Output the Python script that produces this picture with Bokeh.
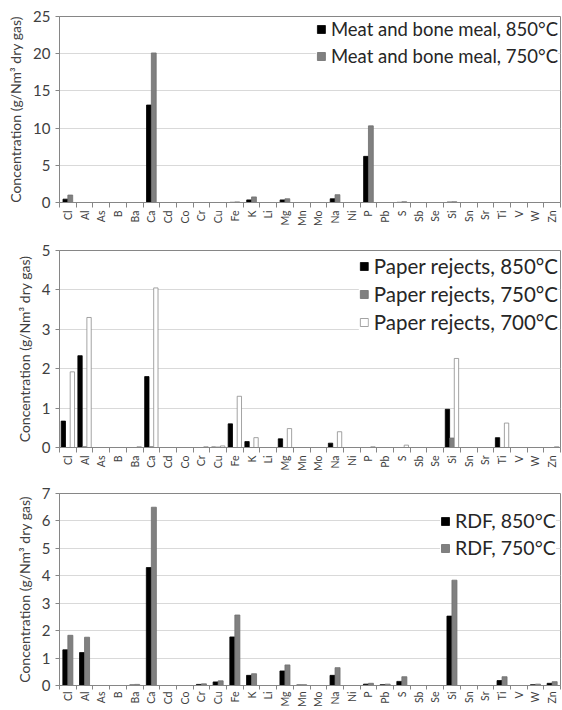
import math
from bokeh.plotting import figure
from bokeh.layouts import column
from bokeh.models import Range1d, FixedTicker, LinearAxis, ColumnDataSource
from bokeh.transform import dodge
from bokeh.embed import file_html
from bokeh.resources import INLINE

elements = ["Cl", "Al", "As", "B", "Ba", "Ca", "Cd", "Co", "Cr", "Cu", "Fe", "K", "Li", "Mg", "Mn",
            "Mo", "Na", "Ni", "P", "Pb", "S", "Sb", "Se", "Si", "Sn", "Sr", "Ti", "V", "W", "Zn"]

# Meat and bone meal
mbm_850 = [0.45, 0, 0, 0, 0, 13.1, 0, 0, 0, 0, 0.02, 0.35, 0, 0.35, 0,
           0, 0.5, 0, 6.2, 0, 0.02, 0, 0, 0.05, 0, 0, 0, 0, 0, 0]
mbm_750 = [1.0, 0, 0, 0, 0, 20.1, 0, 0, 0, 0, 0.08, 0.75, 0, 0.5, 0,
           0, 1.05, 0, 10.3, 0, 0.1, 0, 0, 0.1, 0, 0, 0, 0, 0, 0]

# Paper rejects
pr_850 = [0.67, 2.33, 0, 0, 0, 1.8, 0, 0, 0, 0.01, 0.6, 0.15, 0, 0.22, 0,
          0, 0.11, 0, 0, 0, 0, 0, 0, 0.97, 0, 0, 0.25, 0, 0, 0]
pr_750 = [0, 0.02, 0, 0, 0, 0.02, 0, 0, 0, 0.01, 0, 0, 0, 0, 0,
          0, 0, 0, 0, 0, 0, 0, 0, 0.24, 0, 0, 0, 0, 0, 0]
pr_700 = [1.92, 3.3, 0, 0, 0.02, 4.05, 0, 0, 0.02, 0.04, 1.3, 0.25, 0, 0.48, 0,
          0, 0.4, 0, 0.02, 0, 0.06, 0, 0, 2.26, 0, 0, 0.62, 0, 0, 0.02]

# RDF
rdf_850 = [1.3, 1.2, 0, 0, 0.02, 4.3, 0, 0, 0.04, 0.13, 1.77, 0.37, 0, 0.53, 0.02,
           0, 0.37, 0, 0.05, 0.03, 0.15, 0, 0, 2.53, 0, 0, 0.18, 0, 0.03, 0.08]
rdf_750 = [1.83, 1.76, 0, 0, 0.04, 6.5, 0, 0, 0.06, 0.17, 2.57, 0.43, 0, 0.75, 0.03,
           0, 0.65, 0, 0.08, 0.05, 0.32, 0, 0, 3.84, 0, 0, 0.32, 0, 0.05, 0.14]

y_ticks_1 = [0, 5, 10, 15, 20, 25]
y_ticks_2 = [0, 1, 2, 3, 4, 5]
y_ticks_3 = [0, 1, 2, 3, 4, 5, 6, 7]

FONT = "Lato"
AXIS_GREY = "#868686"
TEXT = "#404040"
BLACK = "#000000"
GREY = "#808080"
WHITE = "#ffffff"


def make_panel(height, left, right, top, ymax, yticks, series, bar_w, offsets,
               legend_font, label_h, spacing, legend_loc="top_right", tick_out=5, standoff=3):
    p = figure(width=562, height=height, output_backend="svg", toolbar_location=None,
               x_range=Range1d(-0.5, len(elements) - 0.5), y_range=Range1d(0, ymax),
               min_border_left=left, min_border_right=right, min_border_top=top,
               min_border_bottom=10, x_axis_type=None)
    p.outline_line_color = AXIS_GREY
    p.outline_line_width = 1
    p.background_fill_color = "white"
    p.border_fill_color = "white"

    idx = list(range(len(elements)))
    xaxis = LinearAxis(ticker=FixedTicker(ticks=idx, minor_ticks=[i - 0.5 for i in range(len(elements) + 1)]))
    xaxis.major_label_overrides = {i: e for i, e in zip(idx, elements)}
    xaxis.major_label_orientation = math.pi / 2
    xaxis.major_label_text_font = FONT
    xaxis.major_label_text_font_size = "10.5px"
    xaxis.major_label_text_color = TEXT
    xaxis.major_label_standoff = standoff
    xaxis.major_tick_line_color = None
    xaxis.major_tick_out = tick_out
    xaxis.major_tick_in = 0
    xaxis.minor_tick_out = tick_out
    xaxis.minor_tick_in = 0
    xaxis.minor_tick_line_color = AXIS_GREY
    xaxis.axis_line_color = AXIS_GREY
    p.add_layout(xaxis, "below")

    p.yaxis.ticker = FixedTicker(ticks=yticks, minor_ticks=[])
    p.yaxis.axis_label = "Concentration (g/Nm³ dry gas)"
    p.yaxis.axis_label_text_font = FONT
    p.yaxis.axis_label_text_font_size = "14px"
    p.yaxis.axis_label_text_font_style = "normal"
    p.yaxis.axis_label_text_color = TEXT
    p.yaxis.axis_label_standoff = 6
    p.yaxis.major_label_text_font = FONT
    p.yaxis.major_label_text_font_size = "15px"
    p.yaxis.major_label_text_color = TEXT
    p.yaxis.major_label_standoff = 5
    p.yaxis.major_tick_out = 4
    p.yaxis.major_tick_in = 0
    p.yaxis.major_tick_line_color = AXIS_GREY
    p.yaxis.axis_line_color = AXIS_GREY

    p.xgrid.grid_line_color = None
    p.ygrid.grid_line_color = "#d9d9d9"
    p.ygrid.ticker = FixedTicker(ticks=yticks)

    data = {"x": idx}
    for k, (name, vals, fill, line) in enumerate(series):
        data[f"s{k}"] = vals
    src = ColumnDataSource(data)
    for k, (name, vals, fill, line) in enumerate(series):
        p.vbar(x=dodge("x", offsets[k], range=p.x_range), top=f"s{k}", width=bar_w, bottom=0,
               source=src, fill_color=fill, line_color=line, line_width=0.8,
               legend_label=name)

    lg = p.legend[0]
    lg.location = legend_loc
    lg.background_fill_color = "white"
    lg.background_fill_alpha = 1.0
    lg.border_line_color = None
    lg.label_text_font = FONT
    lg.label_text_font_size = legend_font
    lg.label_text_color = "#262626"
    lg.glyph_width = 10
    lg.glyph_height = 10
    lg.label_standoff = 5
    lg.padding = 4
    lg.margin = 2
    lg.label_height = label_h
    lg.spacing = spacing
    return p


p1 = make_panel(229, 55, 2, 16, 25, y_ticks_1,
                [("Meat and bone meal, 850°C", mbm_850, BLACK, BLACK),
                 ("Meat and bone meal, 750°C", mbm_750, GREY, "#6f6f6f")],
                0.29, [-0.145, 0.145], "18.5px", 20, 5)

p2 = make_panel(245, 59, 1, 21, 5, y_ticks_2,
                [("Paper rejects, 850°C", pr_850, BLACK, BLACK),
                 ("Paper rejects, 750°C", pr_750, GREY, "#6f6f6f"),
                 ("Paper rejects, 700°C", pr_700, WHITE, "#8c8c8c")],
                0.26, [-0.27, 0.0, 0.27], "20.5px", 28, 0)

p3 = make_panel(236, 59, 1, 19, 7, y_ticks_3,
                [("RDF, 850°C", rdf_850, BLACK, BLACK),
                 ("RDF, 750°C", rdf_750, GREY, "#6f6f6f")],
                0.3, [-0.15, 0.15], "19.5px", 27, 0, legend_loc=(381, 124), tick_out=4, standoff=2)

layout = column(p1, p2, p3, spacing=0)
open("out.html", "w").write(file_html(layout, INLINE))
